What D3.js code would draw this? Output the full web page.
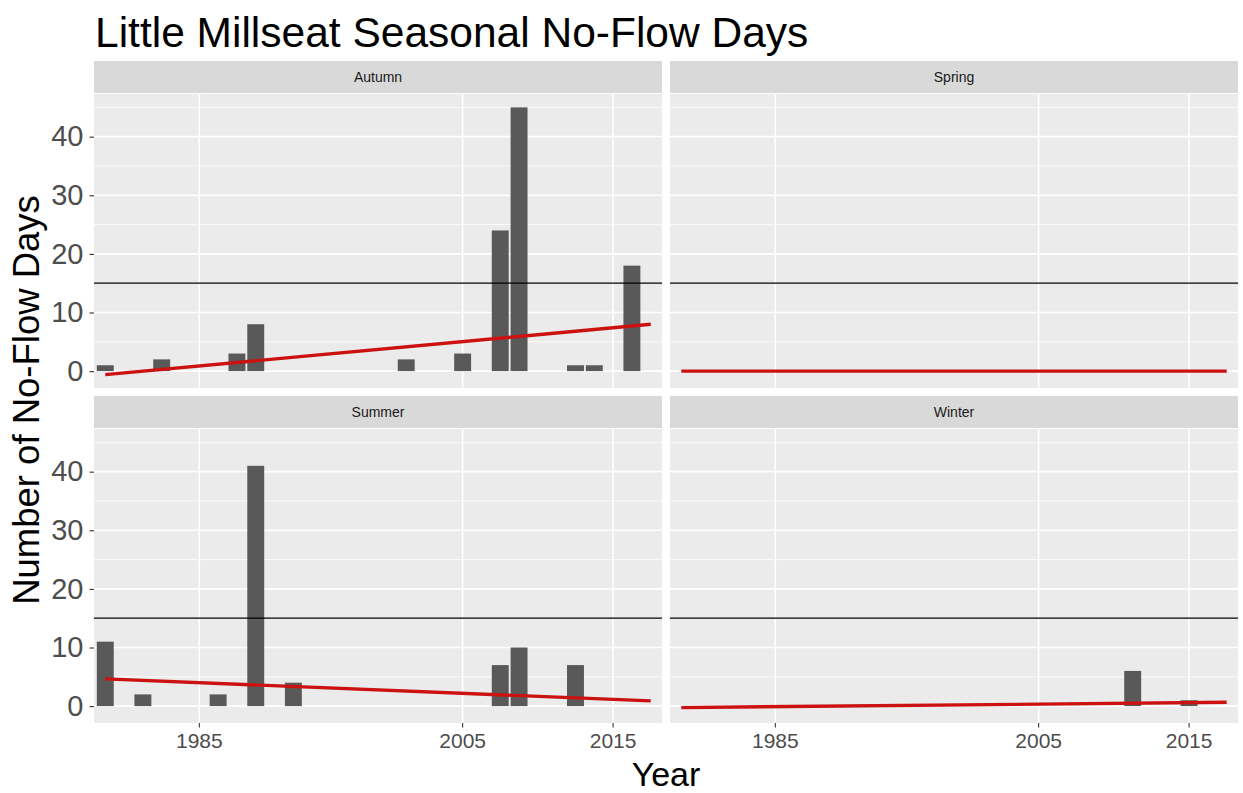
<!DOCTYPE html>
<html><head><meta charset="utf-8">
<script src="https://cdn.jsdelivr.net/npm/d3@7"></script>
<style>
body{margin:0;background:#fff;}
text{font-family:"Liberation Sans",Arial,sans-serif;}
</style>
</head><body>
<svg id="chart" width="1243" height="793"></svg>
<script>
// ---- data ----
const years = [1980,1981,1982,1983,1984,1985,1986,1987,1988,1989,1990,1991,1992,
               1999,2000,2001,2002,2003,2004,2005,2006,2007,2008,2009,2010,2011,2012,
               2015,2016,2017];
const seasons = ["Autumn","Spring","Summer","Winter"];
const autumnDays = [1,0,0,2,0,0,0,3,8,0,0,0,0,0,0,0,2,0,0,3,0,24,45,0,0,1,1,0,18,0];
const springDays = [0,0,0,0,0,0,0,0,0,0,0,0,0,0,0,0,0,0,0,0,0,0,0,0,0,0,0,0,0,0];
const summerDays = [11,0,2,0,0,0,2,0,41,0,4,0,0,0,0,0,0,0,0,0,0,7,10,0,0,7,0,0,0,0];
const winterDays = [0,0,0,0,0,0,0,0,0,0,0,0,0,0,0,0,0,0,0,0,0,0,0,0,6,0,0,1,0,0];
// linear trend (value at first year, value at last year)
const autumnTrend = [-0.6, 8.0];
const springTrend = [0, 0];
const summerTrend = [4.65, 0.9];
const winterTrend = [-0.25, 0.65];
const threshold = 15;
const yTicks = [0,10,20,30,40];
const yMinorTicks = [5,15,25,35,45];
const xTickYears = [1985,2005,2015];
const titleText = "Little Millseat Seasonal No-Flow Days";
const xTitle = "Year";
const yTitle = "Number of No-Flow Days";

const seriesBySeason = {Autumn:autumnDays, Spring:springDays, Summer:summerDays, Winter:winterDays};
const trendBySeason = {Autumn:autumnTrend, Spring:springTrend, Summer:summerTrend, Winter:winterTrend};

// ---- layout ----
const svg = d3.select("#chart");
const font = '"Liberation Sans",Arial,sans-serif';
const panelW = 568, panelH = 294, stripH = 32;
const colX = [94, 670];
const rowStripY = [61, 396];

// shared y scale with ggplot-like 5% expansion
const allVals = [].concat(autumnDays, springDays, summerDays, winterDays,
                          autumnTrend, springTrend, summerTrend, winterTrend);
const [vmin, vmax] = d3.extent(allVals);
const pad = (vmax - vmin) * 0.05;
const yDomain = [vmin - pad, vmax + pad];

svg.append("text").attr("x", 95).attr("y", 47)
  .attr("font-size", 42.5).attr("fill", "#000").text(titleText);

seasons.forEach((s, i) => {
  const col = i % 2, row = Math.floor(i / 2);
  const x0 = colX[col], sy = rowStripY[row], py = sy + stripH + 1;
  const x = d3.scaleBand().domain(years).range([x0, x0 + panelW])
    .paddingInner(0.1).paddingOuter(0.15);
  const y = d3.scaleLinear().domain(yDomain).range([py + panelH, py]);
  const cx = d => x(d) + x.bandwidth() / 2;
  const g = svg.append("g");

  // strip
  g.append("rect").attr("x", x0).attr("y", sy).attr("width", panelW).attr("height", stripH)
    .attr("fill", "#d9d9d9");
  g.append("text").attr("x", x0 + panelW / 2).attr("y", sy + stripH / 2 + 5)
    .attr("text-anchor", "middle").attr("font-size", 14).attr("fill", "#1a1a1a").text(s);

  // panel background
  g.append("rect").attr("x", x0).attr("y", py).attr("width", panelW).attr("height", panelH)
    .attr("fill", "#ebebeb");

  // grid
  g.selectAll(".ymin").data(yMinorTicks).enter().append("line")
    .attr("x1", x0).attr("x2", x0 + panelW)
    .attr("y1", d => y(d)).attr("y2", d => y(d))
    .attr("stroke", "#fff").attr("stroke-width", 0.8);
  g.selectAll(".ymaj").data(yTicks).enter().append("line")
    .attr("x1", x0).attr("x2", x0 + panelW)
    .attr("y1", d => y(d)).attr("y2", d => y(d))
    .attr("stroke", "#fff").attr("stroke-width", 1.6);
  g.selectAll(".xmaj").data(xTickYears).enter().append("line")
    .attr("x1", d => cx(d)).attr("x2", d => cx(d))
    .attr("y1", py).attr("y2", py + panelH)
    .attr("stroke", "#fff").attr("stroke-width", 1.6);

  // bars
  const vals = seriesBySeason[s];
  const barData = years.map((yr, k) => ({yr, v: vals[k]})).filter(d => d.v > 0);
  g.selectAll(".bar").data(barData).enter().append("rect")
    .attr("x", d => x(d.yr)).attr("width", x.bandwidth())
    .attr("y", d => y(d.v)).attr("height", d => y(0) - y(d.v))
    .attr("fill", "#595959");

  // threshold line
  g.append("line").attr("x1", x0).attr("x2", x0 + panelW)
    .attr("y1", y(threshold)).attr("y2", y(threshold))
    .attr("stroke", "#000").attr("stroke-width", 1.3);

  // trend line
  const tr = trendBySeason[s];
  const trendPts = [[years[0], tr[0]], [years[years.length - 1], tr[1]]];
  g.append("path").datum(trendPts)
    .attr("d", d3.line().x(d => cx(d[0])).y(d => y(d[1])))
    .attr("stroke", "#cc1111").attr("stroke-width", 3.4).attr("fill", "none");

  // y axis on left column
  if (col === 0) {
    const ax = g.append("g").attr("transform", `translate(${x0},0)`)
      .call(d3.axisLeft(y).tickValues(yTicks).tickSize(4.5).tickPadding(6).tickFormat(d3.format("d")));
    ax.select(".domain").remove();
    ax.selectAll("line").attr("stroke", "#333").attr("stroke-width", 1.1);
    ax.selectAll("text").attr("font-size", 29).attr("fill", "#4d4d4d")
      .attr("font-family", font);
  }
  // x axis on bottom row
  if (row === 1) {
    const ax = g.append("g").attr("transform", `translate(0,${py + panelH})`)
      .call(d3.axisBottom(x).tickValues(xTickYears).tickSize(4.5).tickPadding(6));
    ax.select(".domain").remove();
    ax.selectAll("line").attr("stroke", "#333").attr("stroke-width", 1.1);
    ax.selectAll("text").attr("font-size", 21).attr("fill", "#4d4d4d")
      .attr("font-family", font);
  }
});

svg.append("text").attr("x", 666).attr("y", 786).attr("text-anchor", "middle")
  .attr("font-size", 34).attr("fill", "#000").text(xTitle);
svg.append("text").attr("transform", "translate(39,400) rotate(-90)")
  .attr("text-anchor", "middle").attr("font-size", 36.5).attr("fill", "#000").text(yTitle);
</script>
</body></html>
